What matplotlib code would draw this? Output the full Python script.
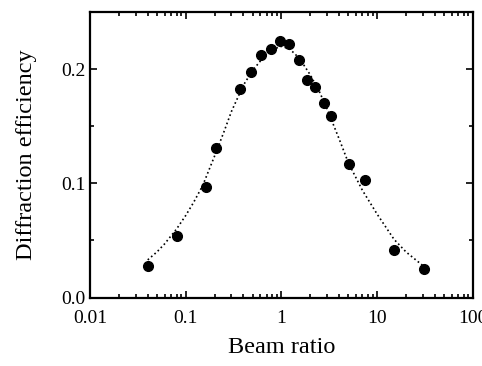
import numpy as np
import matplotlib
matplotlib.use("Agg")
import matplotlib.pyplot as plt
from matplotlib.ticker import LogLocator, MultipleLocator, FixedFormatter, FixedLocator, NullFormatter

# -----------------------------
# DATA
# -----------------------------
beam_ratio = [0.04, 0.08, 0.161, 0.206, 0.37, 0.48, 0.61, 0.776, 0.97, 1.21,
              1.51, 1.84, 2.25, 2.75, 3.33, 5.06, 7.48, 15.1, 30.6]
efficiency = [0.0275, 0.054, 0.0965, 0.131, 0.183, 0.1975, 0.2127, 0.2176, 0.225, 0.222,
              0.208, 0.1905, 0.1847, 0.1705, 0.1588, 0.1169, 0.1026, 0.042, 0.0246]

fit_x = [0.04, 0.05, 0.06, 0.08, 0.1, 0.12, 0.15, 0.2, 0.25, 0.3, 0.4, 0.5, 0.6, 0.7, 0.85,
         1.0, 1.2, 1.4, 1.7, 2.0, 2.5, 3.0, 4.0, 5.0, 7.0, 10.0, 15.0, 20.0, 30.0]
fit_y = [0.033, 0.040, 0.047, 0.060, 0.072, 0.083, 0.098, 0.124, 0.145, 0.163, 0.186, 0.199,
         0.207, 0.213, 0.218, 0.220, 0.218, 0.213, 0.204, 0.195, 0.180, 0.165, 0.139,
         0.118, 0.094, 0.073, 0.051, 0.040, 0.028]

xticks = [0.01, 0.1, 1, 10, 100]
xtick_labels = ["0.01", "0.1", "1", "10", "100"]

# -----------------------------
# FIGURE
# -----------------------------
plt.rcParams["font.family"] = ["Liberation Serif", "DejaVu Serif"]

fig = plt.figure(figsize=(4.82, 3.66), dpi=100)
ax = fig.add_axes([0.187, 0.187, 0.794, 0.780])

ax.plot(fit_x, fit_y, linestyle=":", color="black", linewidth=1.2)
ax.plot(beam_ratio, efficiency, "o", color="black", markersize=7)

ax.set_xscale("log")
ax.set_xlim(0.01, 100)
ax.set_ylim(0, 0.25)

ax.xaxis.set_major_locator(FixedLocator(xticks))
ax.xaxis.set_major_formatter(FixedFormatter(xtick_labels))
ax.xaxis.set_minor_locator(LogLocator(base=10, subs=np.arange(2, 10)))
ax.xaxis.set_minor_formatter(NullFormatter())

ax.yaxis.set_major_locator(MultipleLocator(0.1))
ax.yaxis.set_minor_locator(MultipleLocator(0.05))
ax.yaxis.set_major_formatter(plt.FuncFormatter(lambda v, p: f"{v:.1f}"))

ax.tick_params(which="both", direction="in", top=True, right=True, width=1.2,
               labelsize=14)
ax.tick_params(which="major", length=5)
ax.tick_params(axis="x", which="major", pad=9)
ax.tick_params(axis="y", which="major", pad=3)
ax.tick_params(which="minor", length=3)

for s in ax.spines.values():
    s.set_linewidth(1.6)

ax.set_xlabel("Beam ratio", fontsize=17.5, labelpad=7)
ax.set_ylabel("Diffraction efficiency", fontsize=17.5, labelpad=18)

fig.savefig("out.png", dpi=100)
plt.close(fig)
